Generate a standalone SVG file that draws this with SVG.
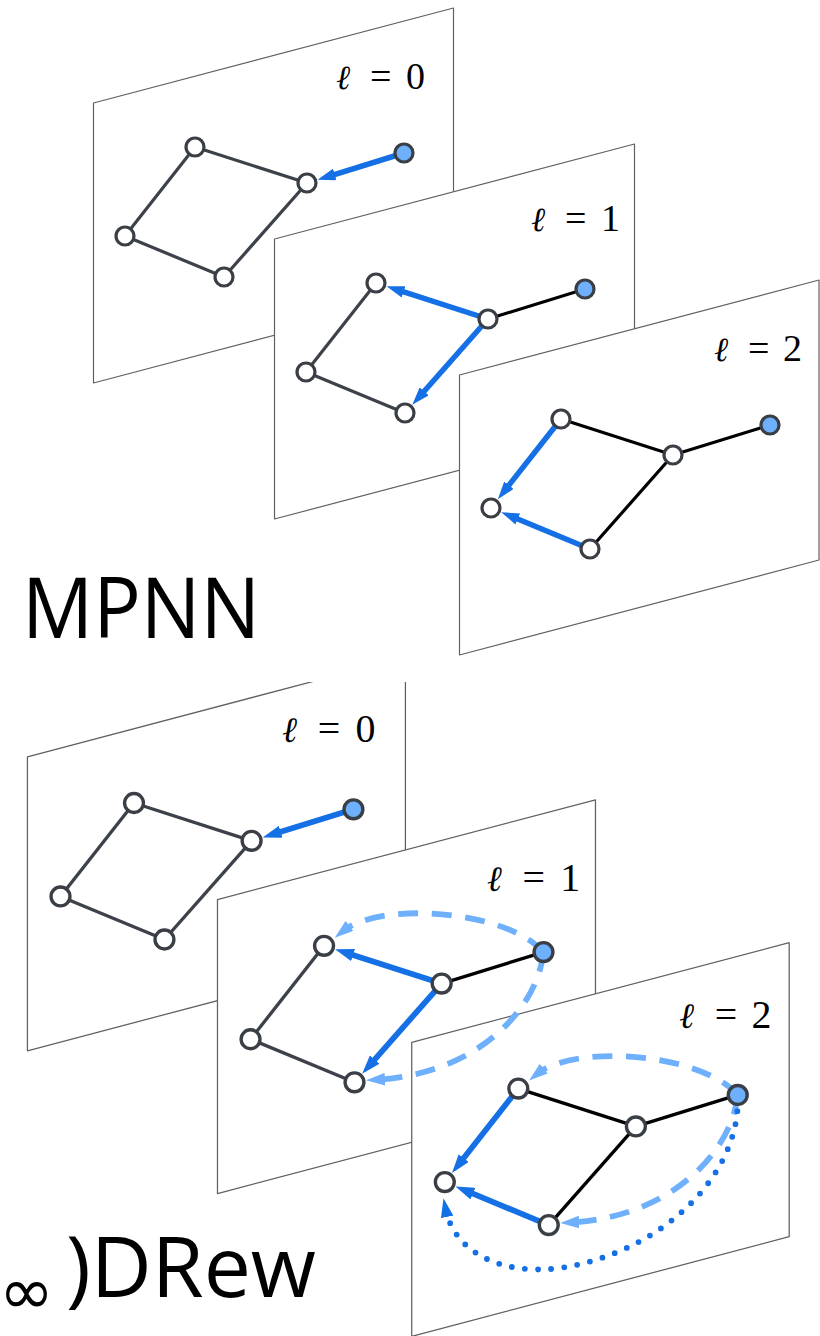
<svg xmlns="http://www.w3.org/2000/svg" width="820" height="1336" viewBox="0 0 820 1336">
<defs>
<style>
.panel{fill:#fff;stroke:#5f6166;stroke-width:1.2;stroke-linejoin:round}
.eg{stroke:#3d4149;stroke-width:3.2;fill:none}
.eb{stroke:#000;stroke-width:3.2;fill:none}
.arr{stroke:#1570e6;stroke-width:5.5;fill:none;marker-end:url(#ah)}
.dash{stroke:#6fb0fd;stroke-width:5.5;fill:none;stroke-dasharray:19 13;marker-end:url(#ahl)}
.dot{stroke:#1570e6;stroke-width:5.5;fill:none;stroke-dasharray:0 12.5;stroke-linecap:round;marker-end:url(#ahd)}
.n{fill:#fff;stroke:#3a3e45;stroke-width:3.2}
.nb{fill:#6eb0fc;stroke:#3a3e45;stroke-width:3.2}
.lbl{font-family:"Liberation Serif","DejaVu Serif",serif;font-size:38px;fill:#000}
.ell{font-family:"DejaVu Serif",serif;font-style:italic;font-size:34px}
.big{font-family:"Open Sans","Liberation Sans",sans-serif;font-size:84px;fill:#000}
</style>
<marker id="ah" viewBox="0 0 18 12" refX="8" refY="6" markerWidth="18" markerHeight="12" markerUnits="userSpaceOnUse" orient="auto"><path d="M0,0 L18,6 L0,12 z" fill="#1570e6"/></marker>
<marker id="ahl" viewBox="0 0 18 12" refX="8" refY="6" markerWidth="18" markerHeight="12" markerUnits="userSpaceOnUse" orient="auto"><path d="M0,0 L18,6 L0,12 z" fill="#6fb0fd"/></marker>
<marker id="ahd" viewBox="0 0 18 12" refX="8" refY="6" markerWidth="18" markerHeight="12" markerUnits="userSpaceOnUse" orient="auto"><path d="M0,0 L18,6 L0,12 z" fill="#1570e6"/></marker>
<clipPath id="clipB"><rect x="0" y="682" width="820" height="660"/></clipPath>
</defs>

<!-- ===== MPNN (top) ===== -->
<g id="mpnn">
  <g id="mpnn-panels">
    <polygon class="panel" points="93.5,103 453.5,8 453.5,288 93.5,383"/>
    <polygon class="panel" points="274.5,239 634.5,144 634.5,424 274.5,519"/>
    <polygon class="panel" points="459.5,375 819,280 819,560 459.5,655"/>
  </g>
  <g id="mpnn-connectors">
    <line class="eg" x1="195" y1="147" x2="307" y2="183"/>
    <line class="eg" x1="195" y1="147" x2="125" y2="236"/>
    <line class="eg" x1="125" y1="236" x2="224" y2="277"/>
    <line class="eg" x1="307" y1="183" x2="224" y2="277"/>
    <line class="arr" x1="404" y1="153" x2="327.1" y2="176.8"/>

    <line class="eg" x1="376" y1="283" x2="306" y2="372"/>
    <line class="eg" x1="306" y1="372" x2="405" y2="413"/>
    <line class="eb" x1="488" y1="319" x2="585" y2="289"/>
    <line class="arr" x1="488" y1="319" x2="396" y2="289.4"/>
    <line class="arr" x1="488" y1="319" x2="418.9" y2="397.3"/>

    <line class="eb" x1="561" y1="419" x2="673" y2="455"/>
    <line class="eb" x1="673" y1="455" x2="590" y2="549"/>
    <line class="eb" x1="673" y1="455" x2="770" y2="425"/>
    <line class="arr" x1="561" y1="419" x2="504" y2="491.5"/>
    <line class="arr" x1="590" y1="549" x2="510.4" y2="516"/>
  </g>
  <g id="mpnn-nodes">
    <g id="m0-a"><circle class="n" cx="195" cy="147" r="9"/></g>
    <g id="m0-b"><circle class="n" cx="307" cy="183" r="9"/></g>
    <g id="m0-c"><circle class="n" cx="125" cy="236" r="9"/></g>
    <g id="m0-d"><circle class="n" cx="224" cy="277" r="9"/></g>
    <g id="m0-e"><circle class="nb" cx="404" cy="153" r="9"/></g>
    <g id="m1-a"><circle class="n" cx="376" cy="283" r="9"/></g>
    <g id="m1-b"><circle class="n" cx="488" cy="319" r="9"/></g>
    <g id="m1-c"><circle class="n" cx="306" cy="372" r="9"/></g>
    <g id="m1-d"><circle class="n" cx="405" cy="413" r="9"/></g>
    <g id="m1-e"><circle class="nb" cx="585" cy="289" r="9"/></g>
    <g id="m2-a"><circle class="n" cx="561" cy="419" r="9"/></g>
    <g id="m2-b"><circle class="n" cx="673" cy="455" r="9"/></g>
    <g id="m2-c"><circle class="n" cx="491" cy="508" r="9"/></g>
    <g id="m2-d"><circle class="n" cx="590" cy="549" r="9"/></g>
    <g id="m2-e"><circle class="nb" cx="770" cy="425" r="9"/></g>
  </g>
  <g id="mpnn-labels">
    <text class="lbl" y="89"><tspan class="ell" x="336">ℓ</tspan><tspan x="370">=</tspan><tspan x="406">0</tspan></text>
    <text class="lbl" y="231"><tspan class="ell" x="531">ℓ</tspan><tspan x="565">=</tspan><tspan x="601">1</tspan></text>
    <text class="lbl" y="361"><tspan class="ell" x="714">ℓ</tspan><tspan x="748">=</tspan><tspan x="783">2</tspan></text>
  </g>
  <text class="big" x="22" y="638" textLength="238" lengthAdjust="spacingAndGlyphs">MPNN</text>
</g>

<!-- ===== DRew (bottom) ===== -->
<g id="drew" clip-path="url(#clipB)">
 <g transform="translate(-70.75 648.65) scale(1.05)">
  <g id="drew-panels">
    <polygon class="panel" points="93.5,103 453.5,8 453.5,288 93.5,383"/>
    <polygon class="panel" points="274.5,239 634.5,144 634.5,424 274.5,519"/>
    <polygon class="panel" points="459.5,375 819,280 819,560 459.5,655"/>
  </g>
  <g id="drew-connectors">
    <line class="eg" x1="195" y1="147" x2="307" y2="183"/>
    <line class="eg" x1="195" y1="147" x2="125" y2="236"/>
    <line class="eg" x1="125" y1="236" x2="224" y2="277"/>
    <line class="eg" x1="307" y1="183" x2="224" y2="277"/>
    <line class="arr" x1="404" y1="153" x2="327.1" y2="176.8"/>

    <line class="eg" x1="376" y1="283" x2="306" y2="372"/>
    <line class="eg" x1="306" y1="372" x2="405" y2="413"/>
    <line class="eb" x1="488" y1="319" x2="585" y2="289"/>
    <line class="arr" x1="488" y1="319" x2="396" y2="289.4"/>
    <line class="arr" x1="488" y1="319" x2="418.9" y2="397.3"/>
    <path class="dash" d="M585,289 C550,249 430,240 394,269"/>
    <path class="dash" d="M585,289 C580,340 525,405 426,410.5"/>

    <line class="eb" x1="561" y1="419" x2="673" y2="455"/>
    <line class="eb" x1="673" y1="455" x2="590" y2="549"/>
    <line class="eb" x1="673" y1="455" x2="770" y2="425"/>
    <line class="arr" x1="561" y1="419" x2="504" y2="491.5"/>
    <line class="arr" x1="590" y1="549" x2="510.4" y2="516"/>
    <path class="dash" d="M770,425 C735,385 615,376 579,405"/>
    <path class="dash" d="M770,425 C765,476 710,541 611,546.5"/>
    <path class="dot" d="M770,428 C772,500 700,575 600,590 C545,597 500,575 491.7,533.3"/>
  </g>
  <g id="drew-nodes">
    <g id="d0-a"><circle class="n" cx="195" cy="147" r="9"/></g>
    <g id="d0-b"><circle class="n" cx="307" cy="183" r="9"/></g>
    <g id="d0-c"><circle class="n" cx="125" cy="236" r="9"/></g>
    <g id="d0-d"><circle class="n" cx="224" cy="277" r="9"/></g>
    <g id="d0-e"><circle class="nb" cx="404" cy="153" r="9"/></g>
    <g id="d1-a"><circle class="n" cx="376" cy="283" r="9"/></g>
    <g id="d1-b"><circle class="n" cx="488" cy="319" r="9"/></g>
    <g id="d1-c"><circle class="n" cx="306" cy="372" r="9"/></g>
    <g id="d1-d"><circle class="n" cx="405" cy="413" r="9"/></g>
    <g id="d1-e"><circle class="nb" cx="585" cy="289" r="9"/></g>
    <g id="d2-a"><circle class="n" cx="561" cy="419" r="9"/></g>
    <g id="d2-b"><circle class="n" cx="673" cy="455" r="9"/></g>
    <g id="d2-c"><circle class="n" cx="491" cy="508" r="9"/></g>
    <g id="d2-d"><circle class="n" cx="590" cy="549" r="9"/></g>
    <g id="d2-e"><circle class="nb" cx="770" cy="425" r="9"/></g>
  </g>
  <g id="drew-labels">
    <text class="lbl" y="89"><tspan class="ell" x="336">ℓ</tspan><tspan x="370">=</tspan><tspan x="406">0</tspan></text>
    <text class="lbl" y="231"><tspan class="ell" x="531">ℓ</tspan><tspan x="565">=</tspan><tspan x="601">1</tspan></text>
    <text class="lbl" y="361"><tspan class="ell" x="714">ℓ</tspan><tspan x="748">=</tspan><tspan x="783">2</tspan></text>
  </g>
 </g>
</g>
<text x="54" y="1314" text-anchor="end" style="font-family:'DejaVu Sans',sans-serif;font-size:66px;fill:#000">∞</text>
<text class="big" x="66" y="1297" textLength="250" lengthAdjust="spacingAndGlyphs">)DRew</text>
</svg>
